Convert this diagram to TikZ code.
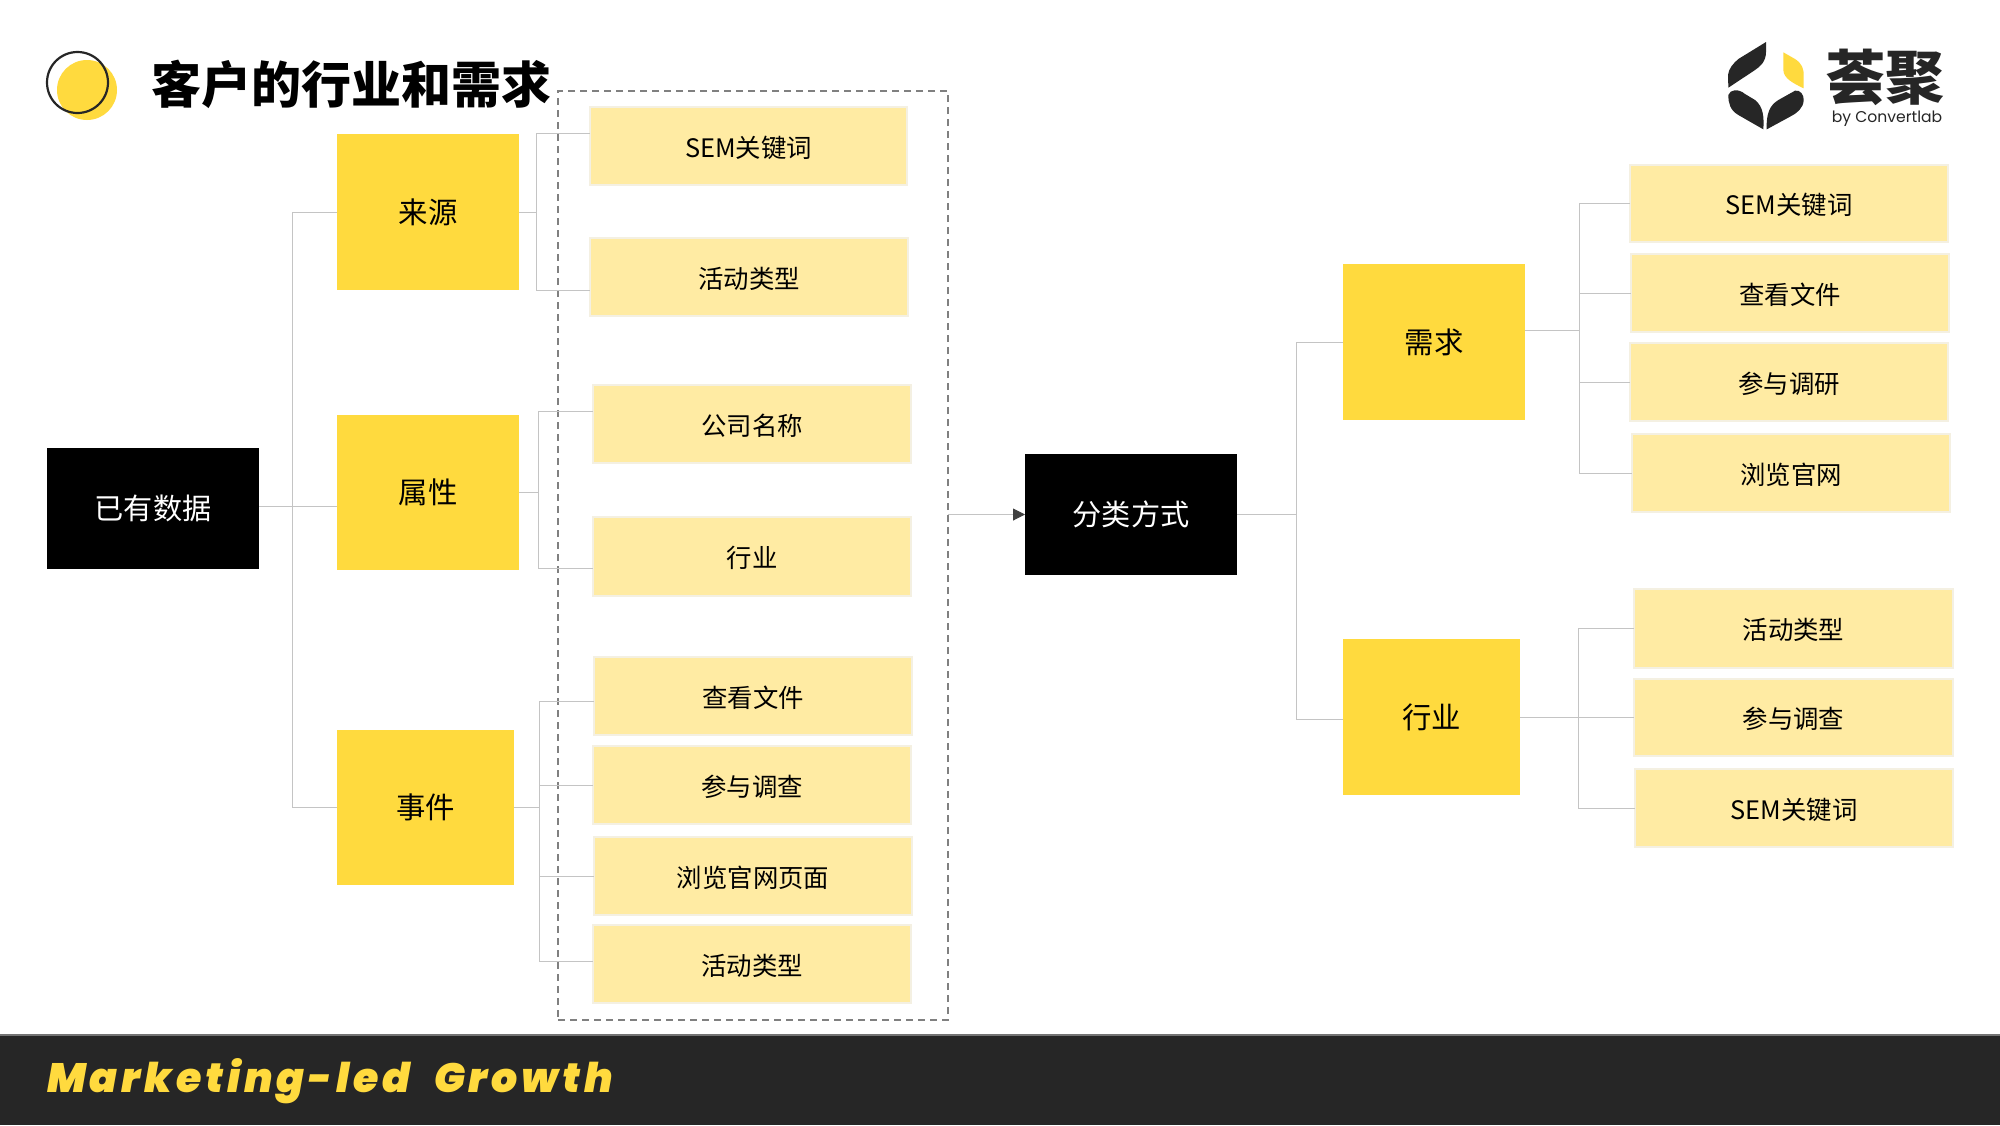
\documentclass[tikz,border=0pt]{standalone}
\usepackage{fontspec}
\usetikzlibrary{arrows.meta}
\setmainfont{Noto Sans CJK SC}
\newfontfamily\foot[LetterSpace=9.5,WordSpace=2.2]{Poppins Black Italic}
\newfontfamily\byf{Poppins}
\definecolor{yel}{HTML}{FFDA3E}
\definecolor{pal}{HTML}{FFEBA3}
\definecolor{palb}{HTML}{F4F0E2}
\definecolor{dark}{HTML}{262626}
\definecolor{ln}{HTML}{C4C4C4}
\newcommand\tshift{0pt}
\newcommand\bx[7]{\pgfmathsetmacro\bw{(#5-#3)*0.5}\pgfmathsetmacro\bh{(#6-#4)*0.5}\node[#2,minimum width=\bw pt,minimum height=\bh pt] (#1) at ({(#3+#5)/2},{(#4+#6)/2}) {\raisebox{\tshift}[\height][\depth]{#7}};}
\tikzset{
 base/.style={inner sep=0pt,outer sep=0pt},
 blk/.style={base,fill=black,text=white,font=\fontsize{14.6}{16}\selectfont},
 ylw/.style={base,fill=yel,text=black,font=\fontsize{14.7}{16}\selectfont},
 pale/.style={base,fill=pal,draw=palb,line width=1pt,text=black,font=\fontsize{12.7}{15}\selectfont\renewcommand\tshift{-0.7pt}},
 conn/.style={draw=ln,line width=0.5pt},
 arr/.style={draw=ln,line width=0.5pt,-{Triangle[length=6pt,width=6pt,color=black!50!gray]}},
 grp/.style={base,draw=black!50,line width=0.9pt,dash pattern=on 3.5pt off 2.5pt},
 logod/.style={fill=dark,draw=none},
}
\begin{document}
\begin{tikzpicture}[x=0.5pt,y=-0.5pt]
\useasboundingbox[fill=white] (0,0) rectangle (2000,1125);
% header
\fill[yel] (87,90) ellipse [x radius=30,y radius=30];
\draw[dark,line width=1.1pt] (77.5,82.5) ellipse [x radius=30.5,y radius=30.5];
\node[base,anchor=west,font=\fontsize{25}{27}\selectfont\bfseries] (title) at (151,84) {客户的行业和需求};
% logo
\begin{scope}[shift={(1680,20)},x=0.1667pt,y=-0.1667pt]
\fill[logod] (258,66) -- (258,95) .. controls (258,125) and (240,140) .. (225,150) -- (145,203) -- (144,165) .. controls (146,145) and (160,130) .. (175,117) -- cycle;
\fill[yel] (310,97) -- (345,117) .. controls (365,130) and (372,145) .. (371,170) -- (371,205) .. controls (340,190) and (310,175) .. (310,150) -- cycle;
\fill[logod] (145,225) .. controls (150,208) and (175,205) .. (195,222) -- (225,240) .. controls (250,260) and (252,290) .. (250,328) -- (175,285) .. controls (150,270) and (145,250) .. (145,225) -- cycle;
\fill[logod] (260,328) .. controls (258,280) and (270,255) .. (295,240) -- (345,212) .. controls (360,208) and (372,225) .. (371,240) .. controls (370,265) and (350,280) .. (330,290) -- cycle;
\end{scope}
\node[base,text=dark,font=\fontsize{29.5}{30}\selectfont\bfseries] (lg) at (1885,77) {荟聚};
\node[base,text=dark,font=\byf\fontsize{7.8}{10}\selectfont] (by) at (1887,118.5) {by Convertlab};
% boxes
\bx{root}{blk}{47}{448}{259}{569}{已有数据}
\bx{ly}{ylw}{337}{134}{519}{290}{来源}
\bx{sx}{ylw}{337}{415}{519}{570}{属性}
\bx{sj}{ylw}{337}{730}{514}{885}{事件}
\bx{a1}{pale}{590}{107}{907}{185}{SEM关键词}
\bx{a2}{pale}{590}{238}{908}{316}{活动类型}
\bx{a3}{pale}{593}{385}{911}{463}{公司名称}
\bx{a4}{pale}{593}{517}{911}{596}{行业}
\bx{a5}{pale}{594}{657}{912}{735}{查看文件}
\bx{a6}{pale}{593}{746}{911}{824}{参与调查}
\bx{a7}{pale}{594}{837}{912}{915}{浏览官网页面}
\bx{a8}{pale}{593}{925}{911}{1003}{活动类型}
\bx{fl}{blk}{1025}{454}{1237}{575}{分类方式}
\bx{xq}{ylw}{1343}{264}{1525}{420}{需求}
\bx{hy}{ylw}{1343}{639}{1520}{795}{行业}
\bx{r1}{pale}{1630}{165}{1948}{242}{SEM关键词}
\bx{r2}{pale}{1631}{254}{1949}{332}{查看文件}
\bx{r3}{pale}{1630}{343}{1948}{421}{参与调研}
\bx{r4}{pale}{1632}{434}{1950}{512}{浏览官网}
\bx{s1}{pale}{1634}{589}{1953}{668}{活动类型}
\bx{s2}{pale}{1634}{679}{1953}{756}{参与调查}
\bx{s3}{pale}{1635}{769}{1953}{847}{SEM关键词}
\bx{group}{grp}{558}{91}{948}{1020}{}
\bx{bar}{base,fill=dark}{0}{1035}{2000}{1125}{}
\draw[black!55,line width=0.6pt] (bar.north west) -- (bar.north east);
\node[base,anchor=west,text=yel,font=\foot\fontsize{20.5}{24}\selectfont] (tag) at (47,1081) {Marketing-led Growth};
% buses
\coordinate (b0) at (292,0);
\coordinate (b1) at (536,0);
\coordinate (b2) at (538,0);
\coordinate (b3) at (539,0);
\coordinate (b4) at (1296,0);
\coordinate (b5) at (1579,0);
\coordinate (b6) at (1578,0);
% connectors
\draw[conn] ([yshift=1pt]root.east) -- ([yshift=1pt]root.east -| sx.west);
\draw[conn] (ly.west) -- (b0 |- ly.west) -- (b0 |- sj.west) -- (sj.west);
\draw[conn] (ly.east) -- (b1 |- ly.east);
\draw[conn] ([yshift=6.5pt]a1.west) -- ([yshift=6.5pt]b1 |- a1.west) -- ([yshift=-6.5pt]b1 |- a2.west) -- ([yshift=-6.5pt]a2.west);
\draw[conn] (sx.east) -- (b2 |- sx.east);
\draw[conn] ([yshift=6.5pt]a3.west) -- ([yshift=6.5pt]b2 |- a3.west) -- ([yshift=-5.75pt]b2 |- a4.west) -- ([yshift=-5.75pt]a4.west);
\draw[conn] (sj.east) -- (b3 |- sj.east);
\draw[conn] ([yshift=-2.5pt]a5.west) -- ([yshift=-2.5pt]b3 |- a5.west) -- ([yshift=1.5pt]b3 |- a8.west) -- ([yshift=1.5pt]a8.west);
\draw[conn] (a6.west) -- (b3 |- a6.west);
\draw[conn] (a7.west) -- (b3 |- a7.west);
\draw[arr] (group.east |- fl.west) -- (fl.west);
\draw[conn] (fl.east) -- (b4 |- fl.east);
\draw[conn] (xq.west) -- (b4 |- xq.west) -- ([yshift=-1pt]b4 |- hy.west) -- ([yshift=-1pt]hy.west);
\draw[conn] ([yshift=6pt]xq.east) -- ([yshift=6pt]b5 |- xq.east);
\draw[conn] (r1.west) -- (b5 |- r1.west) -- (b5 |- r4.west) -- (r4.west);
\draw[conn] (r2.west) -- (b5 |- r2.west);
\draw[conn] (r3.west) -- (b5 |- r3.west);
\draw[conn] (hy.east) -- (b6 |- hy.east);
\draw[conn] (s1.west) -- (b6 |- s1.west) -- (b6 |- s3.west) -- (s3.west);
\draw[conn] (s2.west) -- (b6 |- s2.west);
\end{tikzpicture}
\end{document}
